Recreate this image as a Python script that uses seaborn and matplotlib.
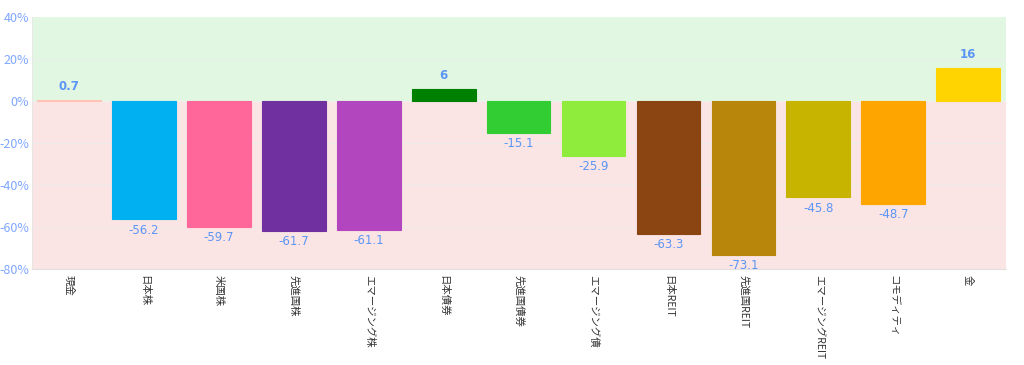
import numpy as np
import pandas as pd
import seaborn as sns
import matplotlib.pyplot as plt
from matplotlib.ticker import FuncFormatter

assets = ['現金', '日本株', '米国株', '先進国株', 'エマージング株', '日本債券', '先進国債券',
          'エマージング債', '日本REIT', '先進国REIT', 'エマージングREIT', 'コモディティ', '金']
returns = [0.7, -56.2, -59.7, -61.7, -61.1, 6, -15.1, -25.9, -63.3, -73.1, -45.8, -48.7, 16]
labels = ['0.7', '-56.2', '-59.7', '-61.7', '-61.1', '6', '-15.1', '-25.9', '-63.3', '-73.1',
          '-45.8', '-48.7', '16']
colors = ['#ffc4b4', '#00b0f0', '#ff6699', '#7030a0', '#b146be', '#008000', '#32cd32',
          '#8fec3d', '#8b4513', '#b8860b', '#c6b400', '#ffa500', '#ffd400']

df = pd.DataFrame({'asset': assets, 'ret': returns})

sns.set_style('white')
plt.rcParams['font.family'] = ['Noto Sans CJK JP', 'DejaVu Sans']

fig, ax = plt.subplots(figsize=(10.24, 3.65), dpi=100)
fig.subplots_adjust(left=0.031, right=0.982, top=0.953, bottom=0.262)

sns.barplot(data=df, x='asset', y='ret', hue='asset', palette=colors, legend=False,
            width=0.85, saturation=1, ax=ax, zorder=2)
for cont in ax.containers:
    for p in cont:
        p.set_edgecolor(p.get_facecolor())
        p.set_linewidth(0.8)

ax.axhspan(0, 40, color='#e2f7e2', zorder=0, lw=0)
ax.axhspan(-80, 0, color='#fbe4e4', zorder=0, lw=0)
for g in [20, -20, -40, -60]:
    ax.axhline(g, color='#ececec', lw=0.6, zorder=0.5)
ax.axhline(0, color='#f0f0f0', lw=0.6, zorder=0.5)

for i, (v, t) in enumerate(zip(returns, labels)):
    if v >= 0:
        ax.text(i, v + 3, t, ha='center', va='bottom', color='#5b95f5', fontsize=8.5,
                fontweight='bold', family='DejaVu Sans')
    else:
        ax.text(i, v - 2, t, ha='center', va='top', color='#5b95f5', fontsize=8.5,
                family='DejaVu Sans')

ax.set_ylim(-80, 40)
ax.set_xlim(-0.5, len(assets) - 0.5)
ax.set_yticks([40, 20, 0, -20, -40, -60, -80])
ax.yaxis.set_major_formatter(FuncFormatter(lambda v, _: f'{int(v)}%'))
ax.tick_params(axis='y', labelsize=9, labelcolor='#7fa6ff', length=0, pad=2)
ax.tick_params(axis='x', labelsize=7.5, labelcolor='#333333', length=0, pad=4)
plt.setp(ax.get_xticklabels(), rotation=-90, va='top', ha='center')
ax.set_xlabel('')
ax.set_ylabel('')

for s in ['top', 'right']:
    ax.spines[s].set_visible(False)
ax.spines['left'].set_color('#e6e6e6')
ax.spines['left'].set_linewidth(0.6)
ax.spines['bottom'].set_color('#e0e0e0')
ax.spines['bottom'].set_linewidth(0.8)

plt.savefig('out.png', dpi=100)
